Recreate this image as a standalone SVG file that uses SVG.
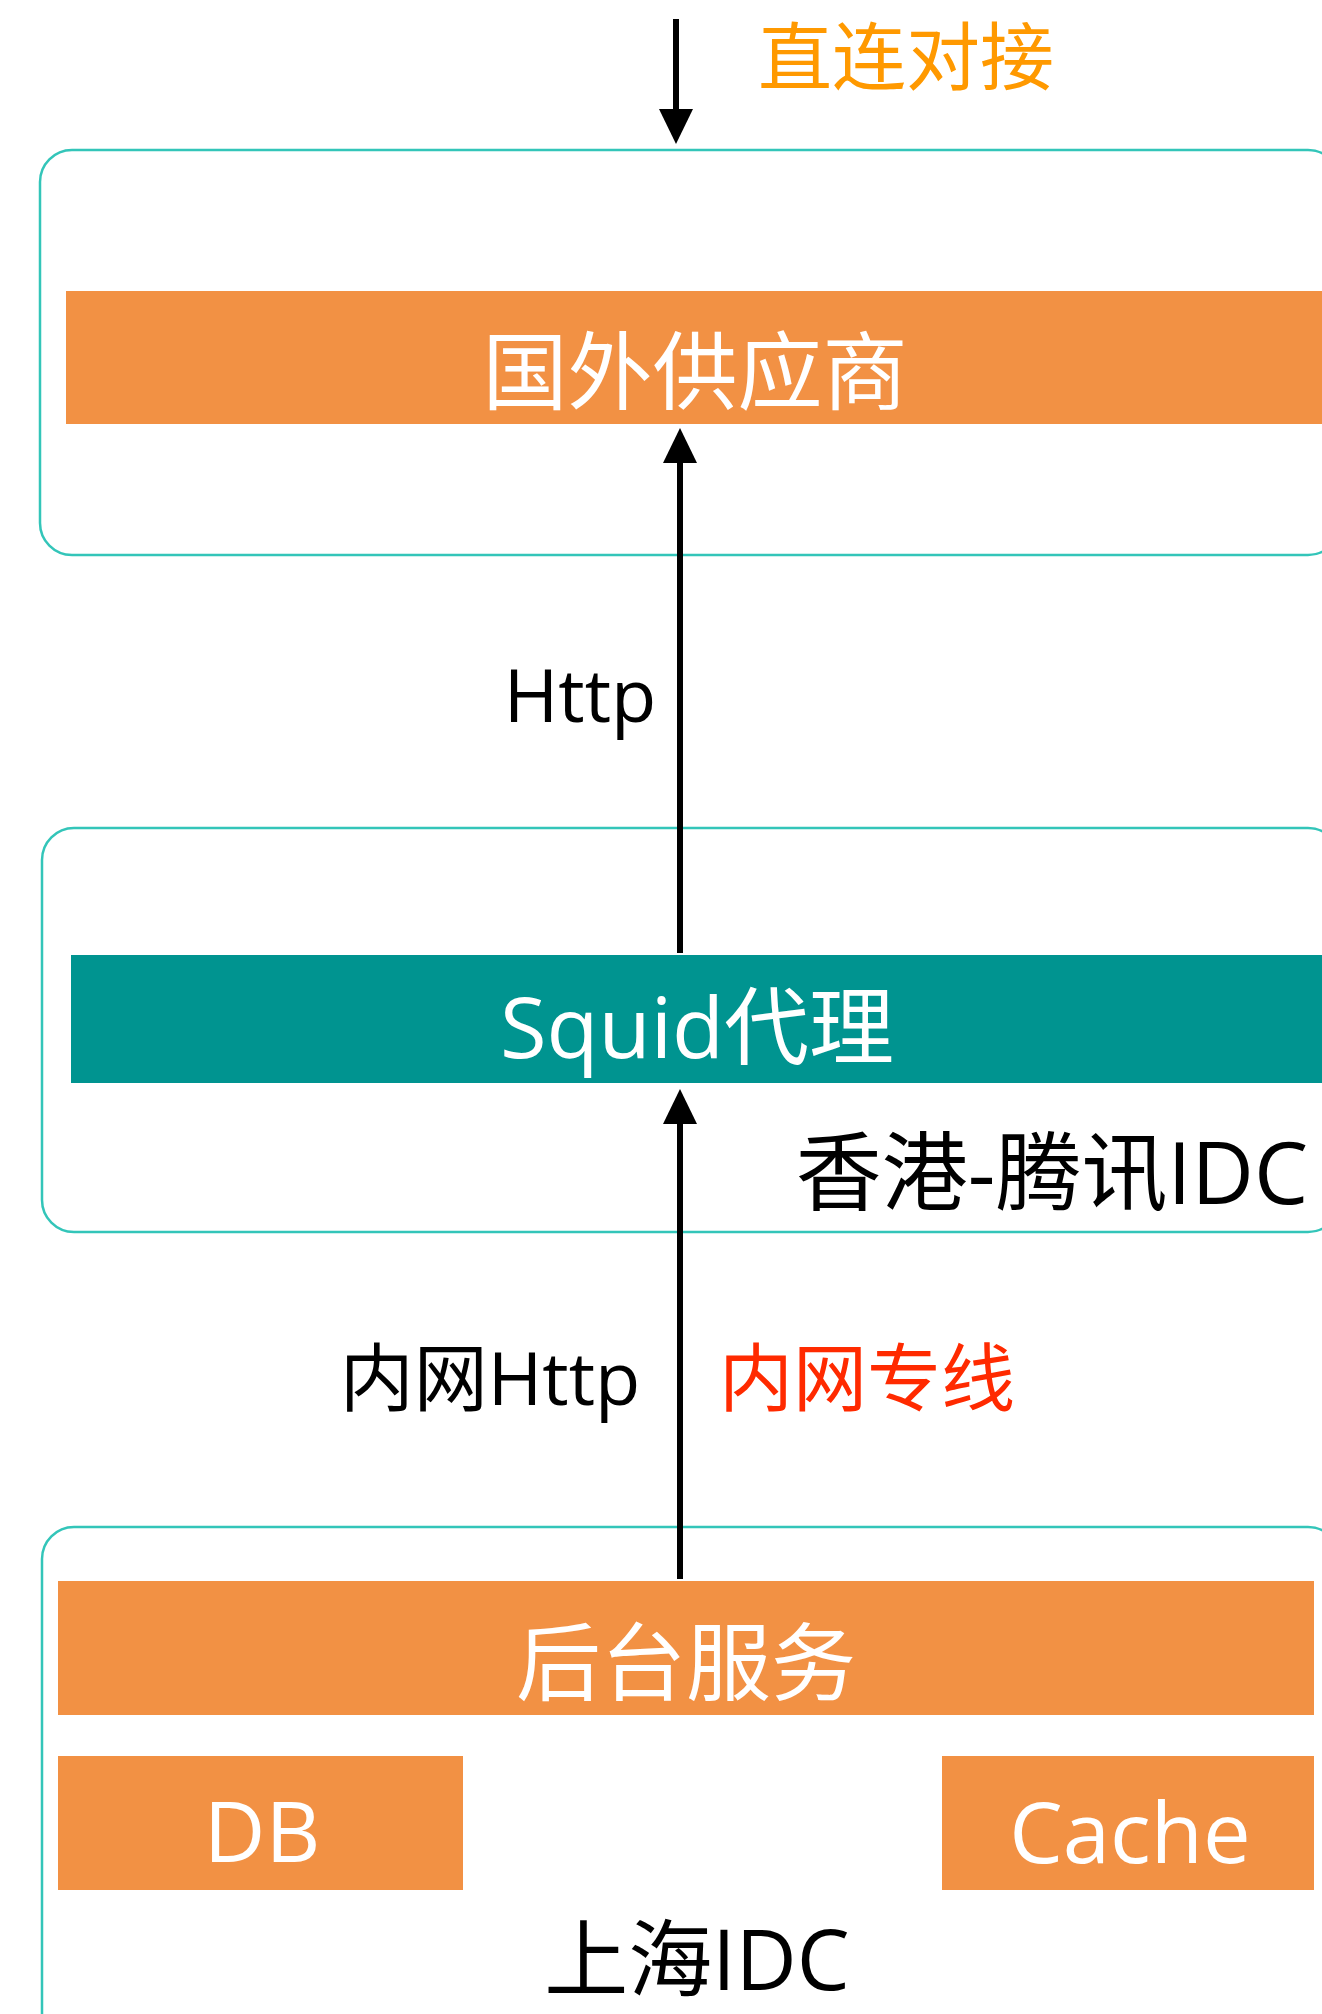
<svg xmlns="http://www.w3.org/2000/svg" width="1322" height="2014" viewBox="0 0 1322 2014">
<style>
.grp{fill:#ffffff;stroke:#33c5b9;stroke-width:2.5}
.bar{fill:#f29144}
.teal{fill:#009490}
text{font-family:"Open Sans","Noto Sans CJK SC",sans-serif;text-anchor:middle}
.w{fill:#ffffff;font-size:85px}
.k{fill:#000000;font-size:84px}
.lbl{fill:#000000;font-size:74px}
.conn{stroke:#000000;stroke-width:6;fill:none}
</style>
<defs>
<marker id="ah" markerUnits="userSpaceOnUse" markerWidth="36" markerHeight="36" viewBox="0 -18 36 36" refX="0" refY="0" orient="auto">
<path d="M0,-17 L35,0 L0,17 Z" fill="#000000"/>
</marker>
</defs>
<g id="group-foreign">
<rect class="grp" x="40" y="150" width="1300" height="405" rx="32" ry="32"/>
</g>
<g id="group-hk">
<rect class="grp" x="42" y="828" width="1298" height="404" rx="32" ry="32"/>
<text class="k" x="1052" y="1204" style="font-size:86px">香港-腾讯IDC</text>
</g>
<g id="group-sh">
<rect class="grp" x="42" y="1527" width="1298" height="540" rx="32" ry="32"/>
<text class="k" x="697" y="1990">上海IDC</text>
</g>
<g id="node-vendor">
<rect class="bar" x="66" y="291" width="1256" height="133"/>
<text class="w" x="695" y="403">国外供应商</text>
</g>
<g id="node-squid">
<rect class="teal" x="71" y="955" width="1251" height="128"/>
<text class="w" x="697" y="1058">Squid代理</text>
</g>
<g id="node-backend">
<rect class="bar" x="58" y="1581" width="1256" height="134"/>
<text class="w" x="686" y="1694">后台服务</text>
</g>
<g id="node-db">
<rect class="bar" x="58" y="1756" width="405" height="134"/>
<text class="w" x="262" y="1862">DB</text>
</g>
<g id="node-cache">
<rect class="bar" x="942" y="1756" width="372" height="134"/>
<text class="w" x="1130" y="1863">Cache</text>
</g>
<g id="connectors">
<line class="conn" x1="676" y1="19" x2="676" y2="109" marker-end="url(#ah)"/>
<line class="conn" x1="680" y1="953" x2="680" y2="463" marker-end="url(#ah)"/>
<line class="conn" x1="680" y1="1579" x2="680" y2="1124" marker-end="url(#ah)"/>
</g>
<g id="labels">
<text class="lbl" x="906" y="84" style="fill:#ff9900">直连对接</text>
<text class="lbl" x="580" y="722">Http</text>
<text class="lbl" x="490" y="1405">内网Http</text>
<text class="lbl" x="867" y="1405" style="fill:#ff2a00">内网专线</text>
</g>
</svg>
